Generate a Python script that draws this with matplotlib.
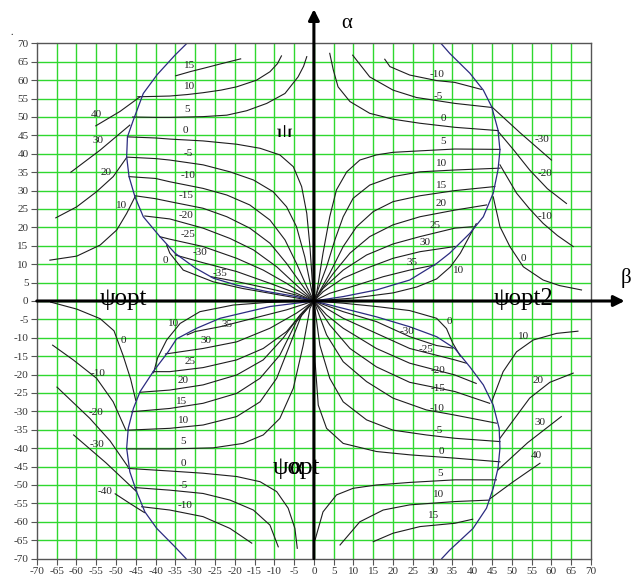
import matplotlib.pyplot as plt
from matplotlib.patches import PathPatch, Rectangle
from matplotlib.textpath import TextPath
from matplotlib.font_manager import FontProperties
from matplotlib.transforms import Affine2D, ScaledTranslation

plt.rcParams['font.family'] = ['Liberation Serif', 'DejaVu Serif']
plt.rcParams['axes.unicode_minus'] = False

ticks = list(range(-70, 75, 5))

# --- upper left: psi lines running from the boundary into the origin
ul_psi = [15, 10, 5, 0, -5, -10, -15, -20, -25, -30, -35]
ul_lines = [
    [(-34.9, 61.2), (-31, 62.4), (-28, 63.2), (-23.7, 64.4), (-18.5, 65.8)],
    [(-44.5, 55.5), (-40, 55.6), (-36.4, 55.7), (-32, 56.1), (-28, 56.6), (-23.5, 57.3), (-19.5, 58.2),
     (-14.5, 60), (-11.1, 62.3), (-9.2, 64.5), (-8.2, 66.6)],
    [(-45.8, 50), (-40, 49.9), (-36.4, 49.9), (-28, 50.1), (-22, 50.5), (-17, 51.7), (-11.9, 53.7),
     (-7.3, 56.4), (-4, 60.9), (-2.6, 63.8), (-1.8, 66.4)],
    [(-47.1, 44.6), (-40, 44.3), (-36.4, 44), (-28, 43.5), (-19.5, 42.6), (-13.6, 41.5), (-8.6, 39.7),
     (-5.2, 36.5), (-3.1, 31.1), (-1.8, 23.8), (-1, 14.8), (-0.2, 2.1), (0, 0)],
    [(-47.3, 39.1), (-40, 38.7), (-36.4, 38.3), (-28, 37), (-21.2, 35.1), (-15.3, 32.9), (-10.3, 29.7),
     (-6.9, 25.6), (-4.4, 20.2), (-2.3, 12), (-0.6, 3), (0, 0)],
    [(-46.7, 33.8), (-40, 33.3), (-36.4, 32.4), (-28, 30.6), (-22, 28.8), (-16.2, 26.1), (-11.1, 22),
     (-7.3, 16.6), (-4.4, 10.2), (-1.8, 3.9), (0, 0)],
    [(-45.2, 28.6), (-40, 27.8), (-36.4, 27), (-28, 25.2), (-22, 22.9), (-16.2, 19.8), (-11.1, 15.7),
     (-6.9, 10.2), (-2.7, 3.9), (0, 0)],
    [(-42.7, 23.1), (-36.4, 22.3), (-28, 19.8), (-21.2, 17), (-15.3, 13.9), (-9.4, 9.3), (-4.4, 4.3), (0, 0)],
    [(-39, 17.5), (-36.4, 16.8), (-28, 14.8), (-19.5, 11.6), (-12.8, 8.4), (-6.9, 4.8), (0, 0)],
    [(-35, 12.5), (-28, 10.4), (-19.5, 8), (-11.1, 4.8), (-4.4, 2.1), (0, 0)],
    [(-26, 6.6), (-20, 5.4), (-15.3, 4.3), (-9, 2.8), (-4.4, 1.6), (0, 0)],
]
ul_labels = [(-31.3, 63.9), (-31.5, 58.3), (-32, 52), (-32.4, 46.2), (-31.7, 40), (-31.7, 34),
             (-32.2, 28.6), (-32.2, 23.1), (-31.7, 18), (-28.8, 13.2), (-23.7, 7.5)]

# upper left: lines leaving the boundary outwards
ul_out_psi = [40, 30, 20, 10, 0]
ul_out_lines = [
    [(-55.1, 47.6), (-49, 51.5), (-43.9, 55.5)],
    [(-61.4, 35), (-54, 41), (-46.5, 47.8)],
    [(-65.2, 22.6), (-59.9, 25.6), (-54.9, 29.7), (-50.7, 33.8), (-47.3, 39)],
    [(-66.7, 11.1), (-59.9, 12.2), (-54, 15.2), (-49.8, 19.3), (-47.3, 23.8), (-45.2, 28.3)],
    [(-37.2, 15.2), (-36.4, 13), (-33, 8.4), (-25.4, 5.2), (-18, 3.4), (-11.1, 2.1), (0, 0)],
]
ul_out_labels = [(-54.9, 50.8), (-54.6, 43.5), (-52.5, 34.8), (-48.5, 26), (-37.5, 11.1)]

ul_bound = [(-32.1, 70), (-35.1, 66.8), (-39.6, 61.5), (-43.1, 56.4), (-45.6, 49.2), (-47.1, 44.6),
            (-47.3, 39.2), (-46.7, 33.8), (-45.2, 28.3), (-43.1, 22.9), (-38.9, 17.5), (-35.1, 13),
            (-30, 9), (-25.4, 6.2), (-19.5, 4.3), (-12, 2.6), (-4.4, 1.2), (0, 0)]

# --- upper right
ur_psi = [-10, -5, 0, 5, 10, 15, 20, 25, 30, 35]
ur_lines = [
    [(17.9, 65.7), (19.2, 63.7), (24.2, 61.4), (31, 59.9), (35.6, 59.4), (42.3, 57.5)],
    [(9.8, 66.8), (14.1, 60.9), (20, 57.3), (25.9, 55.3), (35.6, 53.7), (44.9, 52.6)],
    [(4, 67.3), (4.9, 62.8), (6.1, 58.2), (9.1, 54.2), (14.1, 51), (20, 49.4), (26.8, 48.3),
     (35.6, 47.2), (46.6, 46.3)],
    [(0, 0), (0.7, 2.1), (2.3, 13), (4, 22.9), (5.7, 30.2), (8.3, 35.1), (11.6, 38.3), (15.8, 39.7),
     (20, 40.4), (26.8, 40.8), (35.6, 41.3), (47, 41.2)],
    [(0, 0), (0.7, 2.1), (3.2, 9.3), (5.3, 16.6), (7.4, 22.9), (9.9, 27.9), (14.1, 31.5), (20, 33.8),
     (26.8, 35.1), (35.6, 35.6), (47, 36.1)],
    [(0, 0), (0.7, 1.2), (4, 7.5), (7.4, 14.8), (10.8, 20.2), (15, 24.3), (20, 27), (26.8, 28.6),
     (35.6, 30), (45.7, 31.1)],
    [(0, 0), (0.7, 1.2), (4.9, 7.5), (9.1, 13), (14.1, 17.5), (20, 20.7), (26.8, 22.9), (35.6, 24.7),
     (43.6, 26.1)],
    [(0, 0), (2.3, 3.4), (7.4, 8.4), (13.3, 12.5), (20, 15.5), (26.8, 17.5), (35.6, 19.8), (40.2, 20.2)],
    [(0, 0), (2.3, 2.5), (7.4, 6.2), (13.3, 8.9), (20, 11.6), (26.8, 13.4), (35.6, 14.8)],
    [(0, 0), (4, 2.1), (10.8, 4.3), (17.5, 6.6), (24.2, 8.4), (30.6, 9.8)],
]
ur_labels = [(31, 61.6), (31.4, 55.5), (32.7, 49.6), (32.7, 43.3), (32.2, 37.4), (32.2, 31.5),
             (32.2, 26.6), (30.6, 20.6), (28, 15.9), (24.7, 10.5)]

ur_out_psi = [-30, -20, -10, 0, 10]
ur_out_lines = [
    [(44.9, 52.8), (52, 45.8), (60, 38.3)],
    [(46.6, 46), (50.5, 41), (54.5, 35.6), (59, 30.5), (63.8, 26.5)],
    [(47, 37), (51.2, 29.3), (54.5, 25), (57.9, 21.1), (61.5, 17.8), (65.5, 14.8)],
    [(45.3, 28.3), (47, 20.2), (49.5, 14.8), (52.9, 9.3), (57.9, 5.7), (62, 4.2), (67.6, 3)],
    [(41, 21), (39, 17), (37, 13), (34.5, 9.3), (31, 6), (26, 3.8), (20, 2.2), (10, 0.8), (0, 0)],
]
ur_out_labels = [(57.5, 43.8), (58.3, 34.7), (58.3, 22.9), (52.9, 11.6), (36.5, 8.2)]

ur_bound = [(32.1, 70), (34.3, 67.3), (39.4, 61.9), (42.8, 57.3), (44.9, 52.8), (46.5, 46.5),
            (47, 41), (46.5, 35.6), (45.3, 29.3), (42.8, 22.9), (39.4, 18.4), (34.3, 13), (31, 10.2),
            (24.2, 5.7), (15.8, 3), (7.4, 1.2), (0, 0)]

# --- lower left
ll_psi = [10, 35, 30, 25, 20, 15, 10, 5, 0, -5, -10]
ll_lines = [
    [(-40.5, -19.5), (-39.5, -15.5), (-37.2, -10.6), (-33.8, -6.1), (-28.8, -2.9), (-20.4, -1.1),
     (-11.9, -0.4), (0, 0)],
    [(-32, -9.2), (-30, -8.3), (-23.7, -7), (-15.3, -4.7), (-6.9, -2.4), (0, 0)],
    [(-37.5, -14.4), (-28, -12.9), (-19.5, -11.1), (-11.1, -7.4), (-4.4, -3.3), (0, 0)],
    [(-40.6, -19.2), (-36.4, -19.2), (-28, -18.1), (-19.5, -16), (-12.8, -12.9), (-6.9, -8.3),
     (-2.7, -2.9), (0, 0)],
    [(-43.9, -24.8), (-36.4, -24.2), (-28, -22.8), (-19.5, -20.1), (-12.8, -16), (-7.8, -10.1),
     (-3.5, -3.8), (0, 0)],
    [(-46.1, -30.1), (-36.4, -29.2), (-28, -27.8), (-19.5, -25.1), (-13.6, -21), (-8.6, -14.7),
     (-4.4, -5.6), (0, 0)],
    [(-47.1, -35.1), (-36.4, -34.6), (-28, -33.7), (-19.5, -31.4), (-13.6, -27.4), (-9.4, -21),
     (-6.1, -12), (-3.1, -3.8), (0, 0)],
    [(-47.3, -40.2), (-36.4, -40.2), (-25.4, -39.9), (-17.9, -38.7), (-12.8, -36.4), (-8.6, -31.9),
     (-5.2, -23.7), (-2.7, -12), (-1, -2), (0, 0)],
    [(-46.9, -45.5), (-36.4, -46.2), (-28, -46.8), (-19.5, -47.7), (-13.6, -49.1), (-9.4, -51.8),
     (-6.5, -56.3), (-4.8, -61.8), (-4.2, -67.2)],
    [(-45.2, -50.7), (-36.4, -51.4), (-28, -52.3), (-21.2, -54.1), (-15.3, -56.8), (-11.1, -60.9),
     (-9, -66.8)],
    [(-43.5, -55.9), (-36.4, -56.8), (-28, -58.6), (-21.2, -61.8), (-15.7, -65.8)],
]
ll_labels = [(-35.5, -6.1), (-22, -6.3), (-27.2, -10.6), (-31.3, -16.5), (-33, -21.7), (-33.4, -27.4),
             (-33, -32.6), (-33, -38.2), (-33, -44.1), (-33, -50), (-32.6, -55.6)]

ll_out_psi = [0, -10, -20, -30, -40]
ll_out_lines = [
    [(-66.5, -0.3), (-59.9, -2.2), (-54, -4.8), (-50.5, -8.1), (-48.2, -14.8), (-46.3, -21.2), (-45, -27)],
    [(-66, -12), (-60.8, -16), (-54.9, -21), (-50.7, -27.4), (-47.5, -35.1)],
    [(-64.9, -23.4), (-56.6, -31.9), (-51.5, -38), (-47, -45)],
    [(-60.7, -36.4), (-52.5, -44), (-44.8, -51.8)],
    [(-50.2, -52.4), (-46.5, -55), (-42.8, -57.5)],
]
ll_out_labels = [(-48.2, -10.6), (-54.5, -19.6), (-55.1, -30.3), (-54.9, -39.1), (-52.8, -51.7)]

ll_bound = [(0, 0), (-11.1, -1.5), (-23.7, -4.7), (-29.6, -7.4), (-34.7, -10.3), (-36.8, -13.8),
            (-40.6, -19.2), (-43.9, -24.6), (-45.6, -29.2), (-46.9, -34.6), (-47.3, -40), (-46.5, -46.4),
            (-44.8, -51.8), (-42.7, -57.3), (-39.7, -61.8), (-35.1, -66.8), (-32.3, -70)]

# --- lower right
lr_psi = [0, -30, -25, -20, -15, -10, -5, 0, 5, 10, 15]
lr_lines = [
    [(0, 0), (7.4, -0.6), (15.8, -1.5), (24.2, -2.6), (31, -4.7), (33.5, -7.5), (35, -11.3), (37, -15)],
    [(0, 0), (7.4, -2.9), (15.8, -5.6), (24.2, -9.7), (31, -12.1), (35, -12.8)],
    [(0, 0), (7.4, -4.7), (15.8, -8.8), (24.2, -12.9), (35.6, -16), (38.5, -16.9)],
    [(0, 0), (3.2, -3.8), (7.4, -7.4), (15.8, -12.9), (24.2, -16.9), (35.6, -20.1), (41, -22.4)],
    [(0, 0), (4, -6.5), (9.1, -12.9), (15.8, -17.9), (24.2, -22.1), (35.6, -24.6), (44.4, -27.8)],
    [(0, 0), (3.2, -9.2), (7.4, -16.5), (13.3, -21.9), (20, -26.4), (28.4, -29.6), (35.6, -31),
     (46.1, -33.2)],
    [(0, 0), (1.5, -12), (4, -21), (7.4, -27.4), (13.3, -32.3), (20, -35.1), (28.4, -36.4),
     (35.6, -37.3), (47, -38.2)],
    [(0, 0), (0.3, -16.5), (1.1, -28.3), (3.2, -34.6), (7.4, -38.7), (15.8, -40.9), (24.2, -41.8),
     (35.6, -42.7), (47, -43.7)],
    [(0.3, -64.9), (2.3, -57.3), (5.7, -52.7), (9.9, -50.9), (15.8, -50), (24.2, -49.3), (35.6, -48.6),
     (46.1, -48.6)],
    [(6.6, -66.3), (11.6, -60), (17.5, -56.8), (24.2, -55.4), (35.6, -54.5), (44.4, -54.1)],
    [(15, -65.4), (20, -63.1), (26.8, -61.3), (35.6, -60.4), (40.1, -59.3)],
]
lr_labels = [(34.3, -5.6), (23.5, -8.3), (28.4, -13.3), (31.4, -19), (31.4, -23.7), (31, -29.2),
             (31.4, -35.1), (32.2, -40.8), (31.8, -46.8), (31.4, -52.6), (30.1, -58.2)]

lr_out_psi = [10, 20, 30, 40]
lr_out_lines = [
    [(44.9, -27.4), (47.8, -19.2), (51.2, -13.8), (55.4, -10.6), (61.3, -8.8), (66.7, -8.2)],
    [(47, -37.3), (54.5, -26.4), (59.6, -22.1), (65.5, -19.6)],
    [(46.5, -45.9), (54, -38.5), (62.5, -31.4)],
    [(44.4, -53.8), (50.5, -49), (57.1, -44.1)],
]
lr_out_labels = [(52.9, -9.7), (56.7, -21.7), (57.1, -33.1), (56.2, -42.1)]

lr_bound = [(0, 0), (7.4, -2), (15.8, -4.3), (24.2, -7), (31, -9.7), (35.6, -12.9), (39.4, -17.9),
            (42.8, -22.8), (45.3, -28.3), (46.8, -34.6), (47, -40), (46.5, -45.5), (45.3, -50.9),
            (43.6, -56.3), (40.2, -61.8), (34.3, -67.7), (32.3, -70)]

groups = [
    (ul_psi, ul_lines, ul_labels), (ul_out_psi, ul_out_lines, ul_out_labels),
    (ur_psi, ur_lines, ur_labels), (ur_out_psi, ur_out_lines, ur_out_labels),
    (ll_psi, ll_lines, ll_labels), (ll_out_psi, ll_out_lines, ll_out_labels),
    (lr_psi, lr_lines, lr_labels), (lr_out_psi, lr_out_lines, lr_out_labels),
]
bounds = [ul_bound, ur_bound, ll_bound, lr_bound]

W, H = 632, 579
fig = plt.figure(figsize=(W / 100, H / 100), dpi=100)
ax = fig.add_axes([36.8 / W, 1 - 558.6 / H, (591 - 36.8) / W, (558.6 - 43.4) / H])
ax.set_xlim(-70, 70)
ax.set_ylim(-70, 70)

green = '#2fd82f'
for t in ticks[1:-1]:
    ax.axvline(t, color=green, lw=1.0, zorder=0)
    ax.axhline(t, color=green, lw=1.0, zorder=0)

ax.set_xticks(ticks)
ax.set_yticks(ticks)
ax.set_xticklabels([str(t) for t in ticks])
ax.set_yticklabels([str(t) for t in ticks])
ax.tick_params(direction='out', length=4, width=0.8, color='#555555', labelsize=8,
               labelcolor='#333333', pad=2)
for s in ax.spines.values():
    s.set_color('#555555')
    s.set_linewidth(1.0)

for psi, lines, labels in groups:
    for v, pts, (lx, ly) in zip(psi, lines, labels):
        xs, ys = zip(*pts)
        ax.plot(xs, ys, color='#1e1e1e', lw=0.8, zorder=2)
        ax.text(lx, ly, str(v), fontsize=8, ha='center', va='center', color='#222222', zorder=3)

for pts in bounds:
    xs, ys = zip(*pts)
    ax.plot(xs, ys, color='#2b2b80', lw=0.9, zorder=2)

# coordinate axes with arrows
ax.annotate('', xy=(0, 79.3), xytext=(0, -70), annotation_clip=False, zorder=4,
            arrowprops=dict(arrowstyle='-|>', lw=2.2, color='black', mutation_scale=16,
                            shrinkA=0, shrinkB=0))
ax.annotate('', xy=(78.5, 0), xytext=(-70, 0), annotation_clip=False, zorder=4,
            arrowprops=dict(arrowstyle='-|>', lw=2.2, color='black', mutation_scale=16,
                            shrinkA=0, shrinkB=0))
ax.text(7.0, 75.5, 'α', fontsize=15, ha='left', va='center', clip_on=False)
ax.text(77.6, 6.2, 'β', fontsize=15, ha='left', va='center', clip_on=False)

ax.text(-54, 0.6, 'ψopt', fontsize=18, ha='left', va='center', zorder=5)
ax.text(45.5, 0.6, 'ψopt2', fontsize=18, ha='left', va='center', zorder=5)
ax.text(-10.4, -45.3, 'ψopt', fontsize=18, ha='left', va='center', zorder=5)
ax.text(-6.0, -45.3, 'α', fontsize=18, ha='left', va='center', zorder=6)

# only the upper part of this psi is visible, so draw it as a path and clip it
tp = TextPath((0, 0), 'ψ', size=18, prop=FontProperties(family='Liberation Serif'))
ext = tp.get_extents()
tr = Affine2D().translate(-ext.x0, -ext.y1).scale(fig.dpi / 72) + ScaledTranslation(-9.3, 47.8, ax.transData)
psi_top = PathPatch(tp, transform=tr, facecolor='black', edgecolor='none', zorder=5)
ax.add_patch(psi_top)
psi_top.set_clip_path(Rectangle((-12, 44.6), 10, 10, transform=ax.transData))

fig.text(10 / W, 1 - 35 / H, '.', fontsize=7)

fig.savefig('out.png', dpi=100)
